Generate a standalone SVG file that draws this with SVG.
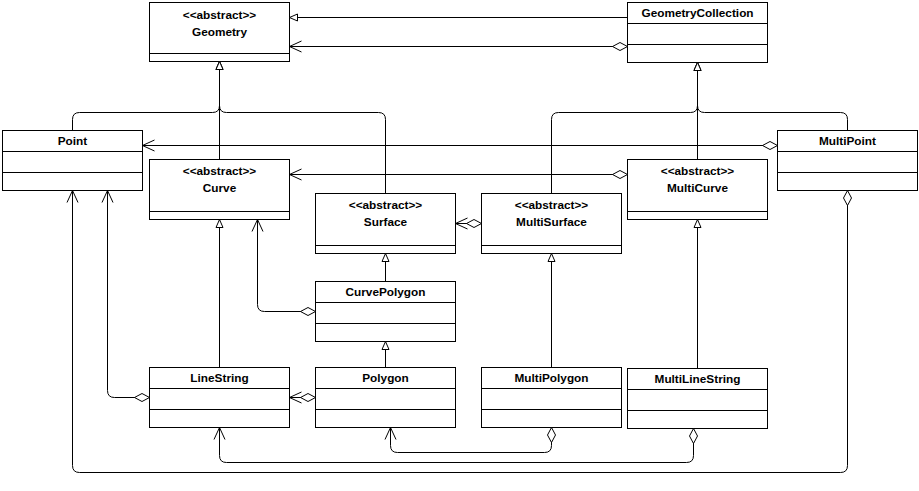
<svg xmlns="http://www.w3.org/2000/svg" width="919" height="491" viewBox="0 0 919 491">
<style>
.box{fill:#fff;stroke:#000;stroke-width:1}
.div{stroke:#000;stroke-width:1;fill:none}
.t{font-family:"Liberation Sans",Arial,sans-serif;font-size:11.8px;font-weight:bold;text-anchor:middle;fill:#000}
.c{fill:none;stroke:#000;stroke-width:1}
.gen{marker-end:url(#gen)}
.agg{marker-start:url(#dia);marker-end:url(#open)}
</style>
<defs>
<marker id="gen" markerUnits="userSpaceOnUse" markerWidth="12" markerHeight="12" refX="8" refY="4" orient="auto" overflow="visible">
<path d="M0,0.5 L8,4 L0,7.5 Z" fill="#fff" stroke="#000" stroke-width="1"/>
</marker>
<marker id="open" markerUnits="userSpaceOnUse" markerWidth="14" markerHeight="14" refX="12" refY="5.5" orient="auto" overflow="visible">
<path d="M0,0 L12,5.5 L0,11" fill="none" stroke="#000" stroke-width="1"/>
</marker>
<marker id="dia" markerUnits="userSpaceOnUse" markerWidth="16" markerHeight="10" refX="0" refY="4" orient="auto" overflow="visible">
<path d="M0,4 L7.5,0 L15,4 L7.5,8 Z" fill="#fff" stroke="#000" stroke-width="1"/>
</marker>
</defs>

<g id="Geometry">
<rect class="box" x="149.5" y="2.5" width="140" height="59"/>
<line class="div" x1="149.5" y1="53.5" x2="289.5" y2="53.5"/>
<text class="t" x="219.5" y="18.5">&lt;&lt;abstract&gt;&gt;</text>
<text class="t" x="219.5" y="35.5">Geometry</text>
</g>
<g id="GeometryCollection">
<rect class="box" x="627.5" y="2.5" width="140" height="60"/>
<line class="div" x1="627.5" y1="23.5" x2="767.5" y2="23.5"/>
<line class="div" x1="627.5" y1="44.5" x2="767.5" y2="44.5"/>
<text class="t" x="697.5" y="17">GeometryCollection</text>
</g>
<g id="Point">
<rect class="box" x="2.5" y="130.5" width="140" height="60"/>
<line class="div" x1="2.5" y1="151.5" x2="142.5" y2="151.5"/>
<line class="div" x1="2.5" y1="172.5" x2="142.5" y2="172.5"/>
<text class="t" x="72.5" y="145">Point</text>
</g>
<g id="Curve">
<rect class="box" x="149.5" y="159.5" width="140" height="60"/>
<line class="div" x1="149.5" y1="211.5" x2="289.5" y2="211.5"/>
<text class="t" x="219.5" y="174.5">&lt;&lt;abstract&gt;&gt;</text>
<text class="t" x="219.5" y="191.5">Curve</text>
</g>
<g id="MultiCurve">
<rect class="box" x="627.5" y="159.5" width="140" height="60"/>
<line class="div" x1="627.5" y1="211.5" x2="767.5" y2="211.5"/>
<text class="t" x="697.5" y="174.5">&lt;&lt;abstract&gt;&gt;</text>
<text class="t" x="697.5" y="191.5">MultiCurve</text>
</g>
<g id="MultiPoint">
<rect class="box" x="777.5" y="130.5" width="140" height="60"/>
<line class="div" x1="777.5" y1="151.5" x2="917.5" y2="151.5"/>
<line class="div" x1="777.5" y1="172.5" x2="917.5" y2="172.5"/>
<text class="t" x="847.5" y="145">MultiPoint</text>
</g>
<g id="Surface">
<rect class="box" x="315.5" y="193.5" width="140" height="60"/>
<line class="div" x1="315.5" y1="245.5" x2="455.5" y2="245.5"/>
<text class="t" x="385.5" y="208.5">&lt;&lt;abstract&gt;&gt;</text>
<text class="t" x="385.5" y="225.5">Surface</text>
</g>
<g id="MultiSurface">
<rect class="box" x="481.5" y="193.5" width="140" height="60"/>
<line class="div" x1="481.5" y1="245.5" x2="621.5" y2="245.5"/>
<text class="t" x="551.5" y="208.5">&lt;&lt;abstract&gt;&gt;</text>
<text class="t" x="551.5" y="225.5">MultiSurface</text>
</g>
<g id="CurvePolygon">
<rect class="box" x="315.5" y="281.5" width="140" height="60"/>
<line class="div" x1="315.5" y1="302.5" x2="455.5" y2="302.5"/>
<line class="div" x1="315.5" y1="323.5" x2="455.5" y2="323.5"/>
<text class="t" x="385.5" y="296">CurvePolygon</text>
</g>
<g id="LineString">
<rect class="box" x="149.5" y="367.5" width="140" height="60"/>
<line class="div" x1="149.5" y1="388.5" x2="289.5" y2="388.5"/>
<line class="div" x1="149.5" y1="409.5" x2="289.5" y2="409.5"/>
<text class="t" x="219.5" y="382">LineString</text>
</g>
<g id="Polygon">
<rect class="box" x="315.5" y="367.5" width="140" height="60"/>
<line class="div" x1="315.5" y1="388.5" x2="455.5" y2="388.5"/>
<line class="div" x1="315.5" y1="409.5" x2="455.5" y2="409.5"/>
<text class="t" x="385.5" y="382">Polygon</text>
</g>
<g id="MultiPolygon">
<rect class="box" x="481.5" y="367.5" width="140" height="60"/>
<line class="div" x1="481.5" y1="388.5" x2="621.5" y2="388.5"/>
<line class="div" x1="481.5" y1="409.5" x2="621.5" y2="409.5"/>
<text class="t" x="551.5" y="382">MultiPolygon</text>
</g>
<g id="MultiLineString">
<rect class="box" x="627.5" y="368.5" width="140" height="60"/>
<line class="div" x1="627.5" y1="389.5" x2="767.5" y2="389.5"/>
<line class="div" x1="627.5" y1="410.5" x2="767.5" y2="410.5"/>
<text class="t" x="697.5" y="383">MultiLineString</text>
</g>

<g id="connectors">
<path class="c gen" d="M627.5,17.5 H289.5"/>
<path class="c agg" d="M627.5,46.5 H289.5"/>
<path class="c gen" d="M72.5,130.5 V119.5 Q72.5,112.5 79.5,112.5 H212.5 Q219.5,112.5 219.5,105.5 V61.5"/>
<path class="c gen" d="M219.5,159.5 V61.5"/>
<path class="c gen" d="M385.5,193.5 V119.5 Q385.5,112.5 378.5,112.5 H226.5 Q219.5,112.5 219.5,105.5 V61.5"/>
<path class="c gen" d="M551.5,193.5 V119.5 Q551.5,112.5 558.5,112.5 H690.5 Q697.5,112.5 697.5,105.5 V62.5"/>
<path class="c gen" d="M697.5,159.5 V62.5"/>
<path class="c gen" d="M847.5,130.5 V119.5 Q847.5,112.5 840.5,112.5 H704.5 Q697.5,112.5 697.5,105.5 V62.5"/>
<path class="c agg" d="M777.5,145.5 H142.5"/>
<path class="c agg" d="M627.5,174.5 H289.5"/>
<path class="c agg" d="M481.5,223.5 H455.5"/>
<path class="c agg" d="M315.5,397.5 H289.5"/>
<path class="c agg" d="M149.5,397.5 H114.5 Q107.5,397.5 107.5,390.5 V190.5"/>
<path class="c agg" d="M315.5,311.5 H264.5 Q257.5,311.5 257.5,304.5 V219.5"/>
<path class="c agg" d="M847.5,190.5 V465.5 Q847.5,472.5 840.5,472.5 H79.5 Q72.5,472.5 72.5,465.5 V190.5"/>
<path class="c agg" d="M693.5,428.5 V455.5 Q693.5,462.5 686.5,462.5 H226.5 Q219.5,462.5 219.5,455.5 V427.5"/>
<path class="c agg" d="M551.5,427.5 V445.5 Q551.5,452.5 544.5,452.5 H397.5 Q390.5,452.5 390.5,445.5 V427.5"/>
<path class="c gen" d="M219.5,367.5 V219.5"/>
<path class="c gen" d="M385.5,281.5 V253.5"/>
<path class="c gen" d="M385.5,367.5 V341.5"/>
<path class="c gen" d="M551.5,367.5 V253.5"/>
<path class="c gen" d="M697.5,368.5 V219.5"/>
</g>
</svg>
